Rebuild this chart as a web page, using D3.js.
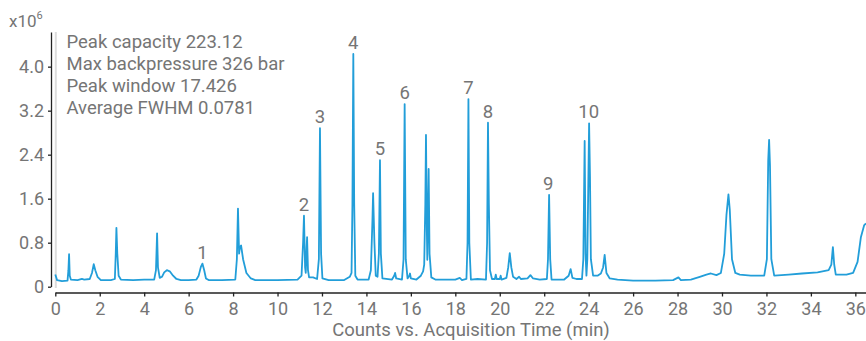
<!DOCTYPE html>
<html>
<head>
<meta charset="utf-8">
<script src="https://cdn.jsdelivr.net/npm/d3@7"></script>
<style>
  html, body { margin: 0; padding: 0; background: #fff; }
  svg { display: block; font-family: Roboto, "Noto Sans", sans-serif; }
</style>
</head>
<body>
<svg id="chart" width="866" height="341"></svg>
<script>
// ---- data (time in min, counts in 1e6) ----
const xTicks = [0, 2, 4, 6, 8, 10, 12, 14, 16, 18, 20, 22, 24, 26, 28, 30, 32, 34, 36];
const yTicks = [0, 0.8, 1.6, 2.4, 3.2, 4.0];
const infoLines = ["Peak capacity 223.12", "Max backpressure 326 bar", "Peak window 17.426", "Average FWHM 0.0781"];
const peakLabels = ["1", "2", "3", "4", "5", "6", "7", "8", "9", "10"];
const peakTimes = [6.62, 11.19, 11.91, 13.41, 14.61, 15.72, 18.59, 19.47, 22.18, 24.0];
const peakHeights = [0.42, 1.29, 2.88, 4.23, 2.30, 3.32, 3.41, 2.98, 1.67, 2.97];
const xTitle = "Counts vs. Acquisition Time (min)";

const trace = [
  [0.00, 0.22], [0.08, 0.12], [0.30, 0.10], [0.55, 0.11], [0.59, 0.30], [0.62, 0.59], [0.65, 0.20], [0.70, 0.13],
  [1.00, 0.12], [1.20, 0.14], [1.30, 0.13], [1.55, 0.14], [1.65, 0.25], [1.73, 0.41], [1.80, 0.30], [1.90, 0.18], [2.05, 0.12],
  [2.50, 0.12], [2.68, 0.14], [2.72, 0.60], [2.75, 1.07], [2.79, 0.60], [2.85, 0.20], [2.95, 0.13],
  [3.50, 0.12], [4.00, 0.13], [4.45, 0.13], [4.53, 0.30], [4.58, 0.97], [4.62, 0.35], [4.70, 0.16],
  [4.80, 0.18], [4.90, 0.26], [5.02, 0.30], [5.15, 0.28], [5.30, 0.20], [5.45, 0.14], [5.65, 0.12],
  [6.00, 0.12], [6.35, 0.13], [6.45, 0.20], [6.55, 0.36], [6.62, 0.42], [6.70, 0.30], [6.78, 0.15], [6.90, 0.12],
  [7.50, 0.12], [8.10, 0.13], [8.17, 0.50], [8.22, 1.42], [8.27, 0.60], [8.31, 0.72], [8.36, 0.75], [8.45, 0.50],
  [8.60, 0.25], [8.80, 0.15], [9.00, 0.12], [10.00, 0.12], [10.90, 0.13], [11.08, 0.20], [11.15, 0.80],
  [11.19, 1.29], [11.24, 0.35], [11.27, 0.25], [11.31, 0.70], [11.33, 0.90], [11.37, 0.30], [11.42, 0.17],
  [11.60, 0.17], [11.78, 0.14], [11.86, 0.50], [11.91, 2.88], [11.96, 0.60], [12.02, 0.15], [12.30, 0.12],
  [13.00, 0.12], [13.25, 0.18], [13.33, 0.25], [13.37, 1.50], [13.41, 4.23], [13.45, 1.50], [13.50, 0.20], [13.60, 0.13],
  [14.10, 0.13], [14.20, 0.30], [14.27, 1.20], [14.30, 1.70], [14.36, 0.80], [14.42, 0.20], [14.50, 0.18],
  [14.56, 0.60], [14.61, 2.30], [14.65, 0.60], [14.72, 0.15], [15.15, 0.13], [15.25, 0.20], [15.29, 0.25],
  [15.34, 0.15], [15.60, 0.13], [15.67, 0.50], [15.72, 3.32], [15.77, 0.50], [15.85, 0.15], [15.93, 0.20],
  [15.96, 0.24], [16.00, 0.15], [16.25, 0.13], [16.45, 0.20], [16.55, 0.28], [16.60, 0.40], [16.65, 1.50],
  [16.68, 2.76], [16.72, 1.00], [16.74, 0.49], [16.77, 1.20], [16.80, 2.14], [16.84, 0.60], [16.92, 0.17],
  [17.10, 0.13], [17.50, 0.13], [18.00, 0.13], [18.20, 0.16], [18.30, 0.12], [18.50, 0.14], [18.55, 0.80],
  [18.59, 3.41], [18.63, 0.80], [18.70, 0.13], [19.00, 0.14], [19.38, 0.13], [19.43, 0.80], [19.47, 2.98],
  [19.51, 1.50], [19.56, 0.30], [19.65, 0.14], [19.78, 0.14], [19.82, 0.22], [19.86, 0.14], [20.00, 0.14],
  [20.04, 0.20], [20.08, 0.13], [20.30, 0.16], [20.38, 0.35], [20.45, 0.61], [20.52, 0.35], [20.60, 0.18],
  [20.75, 0.14], [20.87, 0.18], [20.95, 0.14], [21.25, 0.15], [21.38, 0.21], [21.50, 0.15], [21.80, 0.13],
  [22.12, 0.14], [22.17, 0.50], [22.22, 1.67], [22.27, 0.50], [22.33, 0.13], [22.90, 0.13], [23.10, 0.20],
  [23.19, 0.32], [23.27, 0.16], [23.45, 0.14], [23.70, 0.14], [23.76, 0.50], [23.82, 2.65], [23.86, 0.60],
  [23.90, 0.20], [23.94, 0.50], [24.02, 2.97], [24.06, 2.00], [24.10, 0.50], [24.20, 0.20], [24.40, 0.20],
  [24.55, 0.24], [24.65, 0.35], [24.72, 0.58], [24.80, 0.25], [24.95, 0.15], [25.30, 0.13], [26.00, 0.11],
  [27.00, 0.11], [27.80, 0.12], [28.04, 0.17], [28.15, 0.12], [28.60, 0.13], [29.00, 0.18], [29.30, 0.22],
  [29.50, 0.24], [29.75, 0.21], [29.95, 0.25], [30.10, 0.60], [30.20, 1.30], [30.29, 1.68], [30.35, 1.40],
  [30.45, 0.50], [30.60, 0.25], [30.80, 0.22], [31.30, 0.20], [31.90, 0.20], [32.02, 0.50], [32.08, 2.30],
  [32.12, 2.67], [32.16, 2.20], [32.22, 0.50], [32.35, 0.20], [33.00, 0.22], [33.60, 0.24], [34.30, 0.26],
  [34.80, 0.30], [34.92, 0.40], [34.99, 0.72], [35.05, 0.40], [35.12, 0.22], [35.60, 0.22], [35.90, 0.25],
  [36.10, 0.45], [36.25, 0.90], [36.40, 1.12], [36.48, 1.15]
];

// ---- layout ----
const svg = d3.select("#chart");
const textColor = "#757575";
const lineColor = "#229ed9";

const x = d3.scaleLinear().domain([0, 36.48]).range([55.3, 866]);
const y = d3.scaleLinear().domain([0, 4.63]).range([286.7, 32]);

// light gray start line
svg.append("line")
  .attr("x1", x(0) + 0.5).attr("x2", x(0) + 0.5)
  .attr("y1", 32).attr("y2", 288)
  .attr("stroke", "#dcdcdc").attr("stroke-width", 2);

// trace
const line = d3.line().x(d => x(d[0])).y(d => y(d[1]));
svg.append("path")
  .datum(trace)
  .attr("d", line)
  .attr("fill", "none")
  .attr("stroke", lineColor)
  .attr("stroke-width", 1.8)
  .attr("stroke-linejoin", "round");

// y axis
const yAxis = d3.axisLeft(y)
  .tickValues(yTicks)
  .tickFormat(d => d === 0 ? "0" : d3.format(".1f")(d))
  .tickSize(3).tickSizeOuter(0).tickPadding(4);
const gy = svg.append("g").attr("transform", "translate(51,0)").call(yAxis);

// x axis
const xAxis = d3.axisBottom(x)
  .tickValues(xTicks)
  .tickFormat(d3.format("d"))
  .tickSize(4).tickSizeOuter(0).tickPadding(6);
const gx = svg.append("g").attr("transform", "translate(0,292.5)").call(xAxis);

[gx, gy].forEach(g => {
  g.select(".domain").attr("stroke", "#222").attr("stroke-width", 1.3);
  g.selectAll(".tick line").attr("stroke", "#222").attr("stroke-width", 1.3);
  g.selectAll(".tick text").attr("fill", textColor).style("font-size", "18px").style("font-family", "Roboto");
});

// multiplier label
const mult = svg.append("text").attr("x", 9).attr("y", 27)
  .attr("fill", textColor).style("font-size", "17px");
mult.append("tspan").text("x10");
mult.append("tspan").attr("dy", -8).style("font-size", "11px").text("6");

// info text
svg.append("g").selectAll("text").data(infoLines).join("text")
  .attr("x", 66.5)
  .attr("y", (d, i) => 47.5 + i * 22)
  .attr("fill", textColor)
  .style("font-size", "18.5px")
  .text(d => d);

// peak labels
svg.append("g").selectAll("text").data(peakLabels).join("text")
  .attr("x", (d, i) => x(peakTimes[i]))
  .attr("y", (d, i) => y(peakHeights[i]) - 5)
  .attr("text-anchor", "middle")
  .attr("fill", textColor)
  .style("font-size", "18.5px")
  .text(d => d);

// x axis title
svg.append("text")
  .attr("x", 471).attr("y", 336)
  .attr("text-anchor", "middle")
  .attr("fill", textColor)
  .style("font-size", "18.5px")
  .text(xTitle);
</script>
</body>
</html>
